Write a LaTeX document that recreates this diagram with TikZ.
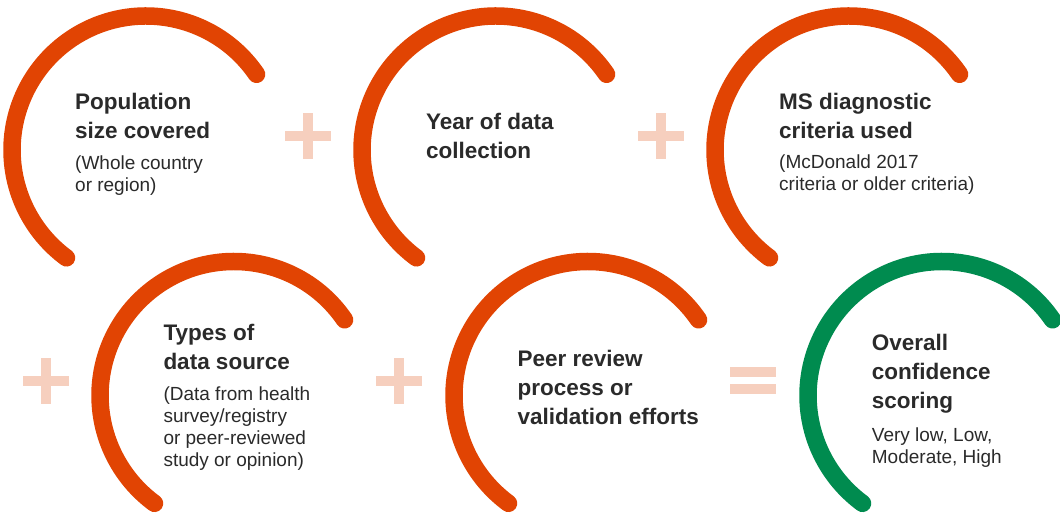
\documentclass[tikz,border=0pt]{standalone}
\usepackage{fontspec}
\setmainfont{Liberation Sans}
\definecolor{ringorange}{HTML}{E14403}
\definecolor{ringgreen}{HTML}{008B4F}
\definecolor{opsign}{HTML}{F6CFBE}
\definecolor{txt}{HTML}{2A2A2A}
\tikzset{
  ring/.style={line width=17.5pt, line cap=round, draw=ringorange},
  greenring/.style={ring, draw=ringgreen},
  headtxt/.style={anchor=base west, inner sep=0pt, text=txt, font=\bfseries\fontsize{22.5}{28.7}\selectfont},
  subtxt/.style={anchor=base west, inner sep=0pt, text=txt, font=\fontsize{19}{22}\selectfont},
  opbar/.style={fill=opsign, draw=none}
}
\newcommand{\lines}[1]{\begin{tabular}[t]{@{}l@{}}#1\end{tabular}}
\begin{document}
\begin{tikzpicture}[x=1pt,y=1pt]
\useasboundingbox (0,0) rectangle (1060,512);
% ring centres
\coordinate (c1) at (146,362);
\coordinate (c2) at (496,362);
\coordinate (c3) at (849,362);
\coordinate (c4) at (234,116.5);
\coordinate (c5) at (588,116.5);
\coordinate (c6) at (942,116.5);
% rings
\foreach \c in {c1,c2,c3,c4,c5}{
  \draw[ring] ([shift={(34.4:134)}]\c) arc[start angle=34.4, end angle=233.6, radius=134];
}
\draw[greenring] ([shift={(34.4:134)}]c6) arc[start angle=34.4, end angle=233.6, radius=134];
% plus signs and equals sign
\foreach \px/\py in {308/376, 660.7/376, 46/131, 399/131}{
  \fill[opbar] (\px-23,\py-5) rectangle (\px+23,\py+5);
  \fill[opbar] (\px-5,\py-23) rectangle (\px+5,\py+23);
}
\fill[opbar] (730,135.3) rectangle (776,145.3);
\fill[opbar] (730,118) rectangle (776,128);
% texts
\node[headtxt] (h1) at (75,402) {\lines{Population\\size covered}};
\node[subtxt] (s1) at (75,342) {\lines{(Whole country\\or region)}};
\node[headtxt] (h2) at (426,382) {\lines{Year of data\\collection}};
\node[headtxt] (h3) at (779,402) {\lines{MS diagnostic\\criteria used}};
\node[subtxt] (s3) at (779,343.7) {\lines{(McDonald 2017\\criteria or older criteria)}};
\node[headtxt] (h4) at (163.3,171.3) {\lines{Types of\\data source}};
\node[subtxt] (s4) at (163.3,112) {\lines{(Data from health\\survey/registry\\or peer-reviewed\\study or opinion)}};
\node[headtxt] (h5) at (517.3,145.3) {\lines{Peer review\\process or\\validation efforts}};
\node[headtxt] (h6) at (871.7,161.3) {\lines{Overall\\confidence\\scoring}};
\node[subtxt] (s6) at (871.7,71) {\lines{Very low, Low,\\Moderate, High}};
\end{tikzpicture}
\end{document}
